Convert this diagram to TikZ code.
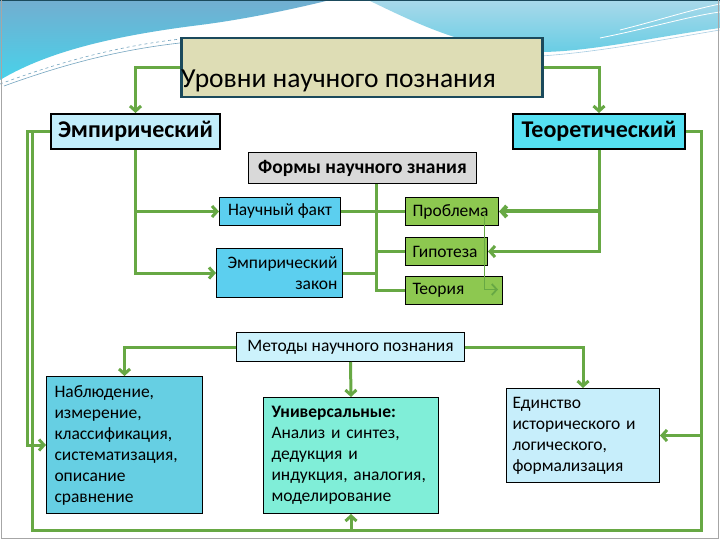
\documentclass[tikz,border=0pt]{standalone}
\usepackage{fontspec}
\setmainfont{Carlito}
\usetikzlibrary{arrows.meta}
\definecolor{lgreen}{HTML}{67A844}
\definecolor{titlefill}{HTML}{DEDDB5}
\definecolor{titledraw}{HTML}{1B4A5C}
\definecolor{empfill}{HTML}{C2EEFB}
\definecolor{teorfill}{HTML}{55E0F2}
\definecolor{formfill}{HTML}{D9D9D9}
\definecolor{factfill}{HTML}{5CCFEF}
\definecolor{gfill}{HTML}{8DC850}
\definecolor{methfill}{HTML}{CCF2FC}
\definecolor{obsfill}{HTML}{66CFE3}
\definecolor{univfill}{HTML}{80EED8}
\definecolor{unityfill}{HTML}{C7EEFB}
\definecolor{waveA}{HTML}{72AED0}
\definecolor{waveB}{HTML}{48D2EA}
\definecolor{waveC}{HTML}{A9D9EA}
\definecolor{waveD}{HTML}{68CDE4}
\begin{document}
\begin{tikzpicture}[x=1pt,y=-1pt,
  box/.style={draw=black, line width=1pt, inner sep=0pt, anchor=north west},
  conn/.style={draw=lgreen, line width=3pt},
  thinconn/.style={draw=lgreen, line width=1.8pt},
  arr/.style={-{Straight Barb[length=5pt,width=11pt]}},
  txt/.style={font=\fontsize{17.5}{21}\selectfont},
  btxt/.style={font=\fontsize{19.5}{22}\selectfont\bfseries},
  hdtxt/.style={font=\fontsize{24}{26}\selectfont\bfseries},
]
\useasboundingbox (0,0) rectangle (720,540);
% background
\fill[white] (0,0) rectangle (720,540);
\shade[top color=waveA, bottom color=waveB] (0,0) -- (330,0) .. controls (290,10) and (240,20) .. (200,25) .. controls (120,35) and (50,50) .. (0,80) -- cycle;
\shade[top color=waveC, bottom color=waveD] (368,0) -- (720,0) -- (720,28) .. controls (660,36) and (590,52) .. (540,52) .. controls (470,50) and (420,25) .. (368,0) -- cycle;
\draw[waveA!80!gray, line width=0.6pt, dashed] (0,84) .. controls (60,62) and (120,45) .. (190,38);
\draw[waveA!80!gray, line width=0.6pt] (4,86) .. controls (70,62) and (130,47) .. (200,41);
\draw[white, line width=0.8pt] (620,30) .. controls (660,20) and (690,10) .. (720,4);
\draw[white, line width=0.8pt] (600,38) .. controls (650,28) and (690,16) .. (720,12);
\draw[waveA!60!white, line width=0.6pt] (541,56) .. controls (600,52) and (660,40) .. (720,30);
\draw[titledraw, line width=1.5pt] (0,0.75) -- (720,0.75);
\draw[gray!70, line width=0.8pt] (1,0) -- (1,538.5) -- (718.5,538.5) -- (718.5,0);

% boxes
\node[box, draw=titledraw, line width=2.5pt, fill=titlefill, minimum width=361pt, minimum height=59pt] (title) at (180,37) {};
\node[anchor=base west, inner sep=0pt, font=\fontsize{27.5}{30}\selectfont] (titletext) at (181,88) {Уровни научного познания};
\node[box, line width=2pt, fill=empfill, minimum width=169pt, minimum height=35pt, hdtxt] (emp) at (50,113) {Эмпирический};
\node[box, line width=2pt, fill=teorfill, minimum width=172pt, minimum height=35pt, hdtxt] (teor) at (512,113) {Теоретический};
\node[box, fill=formfill, minimum width=228pt, minimum height=31pt, btxt] (forms) at (248,152) {Формы научного знания};
\node[box, fill=factfill, minimum width=121pt, minimum height=28pt, txt] (fact) at (219,197) {Научный факт};
\node[box, fill=factfill, minimum width=126pt, minimum height=49pt, txt, align=right, text width=116pt] (law) at (216,248) {Эмпирический\\закон};
\node[box, fill=gfill, minimum width=93pt, minimum height=28pt, txt, text width=79pt, align=left] (prob) at (405,197) {Проблема};
\node[box, fill=gfill, minimum width=82pt, minimum height=28pt, txt, text width=68pt, align=left] (hyp) at (405,237) {Гипотеза};
\node[box, fill=gfill, minimum width=97pt, minimum height=28pt, txt, text width=83pt, align=left] (theory) at (405,276) {Теория};
\node[box, fill=methfill, minimum width=228pt, minimum height=29pt, txt] (methods) at (236,332) {Методы научного познания};
\node[box, fill=obsfill, minimum width=156pt, minimum height=137pt, txt, text width=140pt, align=left] (obs) at (46,376) {Наблюдение,\\измерение,\\классификация,\\систематизация,\\описание\\сравнение};
\node[box, fill=univfill, minimum width=175pt, minimum height=116pt, txt, text width=159pt, align=left] (univ) at (263,397) {\textbf{Универсальные:}\\Анализ и синтез,\\дедукция и\\индукция, аналогия,\\моделирование};
\node[box, fill=unityfill, minimum width=153pt, minimum height=94pt, txt, text width=141pt, align=left] (unity) at (506,388) {Единство\\исторического и\\логического,\\формализация};

% connectors
\draw[conn,arr] (title.west) -| (emp.north);
\draw[conn,arr] (title.east) -| (teor.north);
\draw[conn,arr] (emp.south) |- (law.west);
\draw[conn,arr] (emp.south |- fact.west) -- (fact.west);
\draw[conn,arr] (teor.south) |- (hyp.east);
\draw[conn,arr, line width=4pt] (teor.south |- prob.east) -- (prob.east);
\draw[conn] ([xshift=14pt]forms.south) |- (theory.west);
\draw[conn] ([xshift=14pt]forms.south |- hyp.west) -- (hyp.west);
\draw[conn, line width=3.5pt] (fact.east) -- (prob.west);
\draw[conn] (law.east) -- ([xshift=14pt]forms.south |- law.east);
\draw[thinconn,arr] ([xshift=32.5pt,yshift=-4pt]prob.center) |- ([xshift=-5pt,yshift=1pt]theory.east);
\draw[conn,arr] (methods.west) -| (obs.north);
\draw[conn,arr] (methods.east) -| (unity.north);
\draw[conn,arr] (methods.south) -- (univ.north);
\coordinate (bl) at (32.5,530);
\coordinate (br) at (701,530);
\draw[conn,arr] (emp.west) -- ++(-23,0) |- (obs.west);
\draw[conn] (emp.west -| bl) -- (bl) -- (br) |- (teor.east);
\draw[conn,arr] (univ.south |- bl) -- (univ.south);
\draw[conn,arr] (br |- unity.east) -- (unity.east);
\end{tikzpicture}
\end{document}
